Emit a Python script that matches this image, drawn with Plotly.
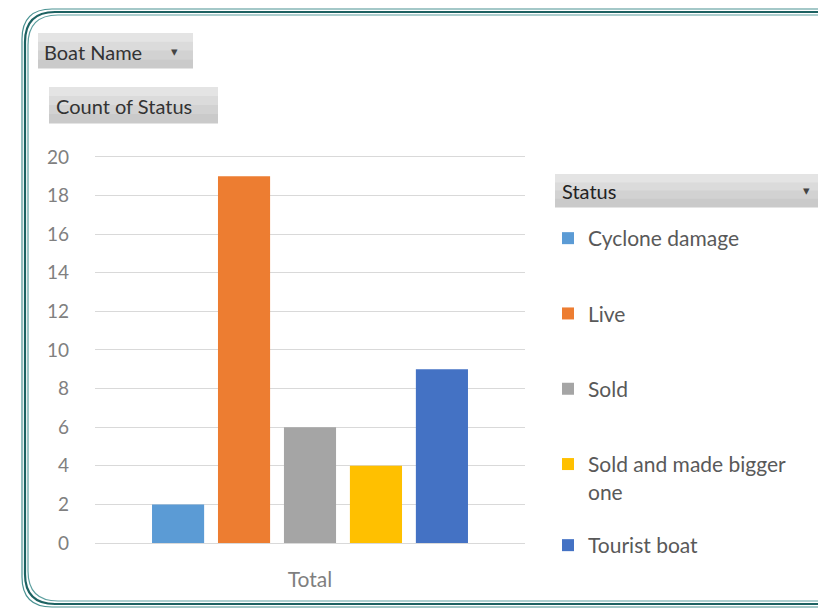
import plotly.graph_objects as go

# Pivot chart: count of boats by status
categories = ["Total"]
statuses = ["Cyclone damage", "Live", "Sold", "Sold and made bigger<br>one", "Tourist boat"]
counts = [2, 19, 6, 4, 9]
colors = ["#5B9BD5", "#ED7D31", "#A5A5A5", "#FFC000", "#4472C4"]
legend_ids = ["legend", "legend", "legend", "legend", "legend2"]
y_ticks = list(range(0, 21, 2))
y_max = 20.1

W, H = 818, 609
ML, MR, MT, MB = 95, 293, 155, 66
PW, PH = W - ML - MR, H - MT - MB


def px_x(x):
    return (x - ML) / PW


def px_y(y):
    return (H - MB - y) / PH


fig = go.Figure()
for name, val, col, lg in zip(statuses, counts, colors, legend_ids):
    fig.add_trace(go.Bar(
        x=categories, y=[val], name=name, marker_color=col,
        marker_line_width=0, legendgroup=name, legend=lg,
    ))

font_family = "Lato, 'Open Sans', sans-serif"

shapes = []


# Rounded triple frame around the whole pivot chart
def frame_path(off):
    left, top, bottom, right, r = 22 + off, 9 + off, 607 - off, 840, 30
    pts = [
        ("M", right, top), ("L", left + r, top),
        ("Q", left, top, left, top + r), ("L", left, bottom - r),
        ("Q", left, bottom, left + r, bottom), ("L", right, bottom),
    ]
    parts = []
    for p in pts:
        cmd, coords = p[0], p[1:]
        xy = []
        for i in range(0, len(coords), 2):
            xy.append(f"{px_x(coords[i]):.5f},{px_y(coords[i + 1]):.5f}")
        parts.append(cmd + " ".join(xy))
    return " ".join(parts)


for off, col, w in [(0, "#4a9292", 1.2), (3, "#1d6262", 2.2), (6, "#5d9f9f", 1.2)]:
    shapes.append(dict(type="path", xref="paper", yref="paper", path=frame_path(off),
                       line=dict(color=col, width=w), layer="above"))


def button(x0, y0, x1, y1):
    # stacked bands imitate the field-button gradient
    tones = ["#e4e4e4", "#dbdbdb", "#d2d2d2", "#cacaca"]
    step = (y1 - y0) / len(tones)
    for i, tone in enumerate(tones):
        shapes.append(dict(type="rect", xref="paper", yref="paper",
                           x0=px_x(x0), x1=px_x(x1),
                           y0=px_y(y0 + i * step), y1=px_y(y0 + (i + 1) * step + 0.5),
                           fillcolor=tone, line_width=0, layer="below"))


button(38, 33, 193, 68)
button(49, 87, 218, 123)
button(555, 174, 840, 207)

btn_font = dict(family=font_family, size=20, color="#333333")
arrow_font = dict(family=font_family, size=13, color="#444444")
annotations = [
    dict(text="Boat Name", x=px_x(42), y=px_y(52), xref="paper", yref="paper",
         xanchor="left", yanchor="middle", showarrow=False, font=btn_font),
    dict(text="▾", x=px_x(174), y=px_y(51), xref="paper", yref="paper",
         xanchor="center", yanchor="middle", showarrow=False, font=arrow_font),
    dict(text="Count of Status", x=px_x(54), y=px_y(106), xref="paper", yref="paper",
         xanchor="left", yanchor="middle", showarrow=False, font=btn_font),
    dict(text="Status", x=px_x(560), y=px_y(191), xref="paper", yref="paper",
         xanchor="left", yanchor="middle", showarrow=False,
         font=dict(family=font_family, size=20, color="#222222")),
    dict(text="▾", x=px_x(806), y=px_y(190), xref="paper", yref="paper",
         xanchor="center", yanchor="middle", showarrow=False, font=arrow_font),
]

legend_style = dict(
    xanchor="left", yanchor="top", xref="paper", yref="paper",
    font=dict(family=font_family, size=21, color="#595959"),
    valign="top", itemclick=False, itemdoubleclick=False, bgcolor="rgba(0,0,0,0)",
)

fig.update_layout(
    width=W, height=H,
    margin=dict(l=ML, r=MR, t=MT, b=MB, pad=0),
    paper_bgcolor="white", plot_bgcolor="white",
    barmode="group", bargap=0.233, bargroupgap=0.21,
    font=dict(family=font_family, color="#7f7f7f"),
    showlegend=True,
    legend=dict(x=px_x(548), y=px_y(218), tracegroupgap=45, **legend_style),
    legend2=dict(x=px_x(548), y=px_y(525), **legend_style),
    shapes=shapes,
    annotations=annotations,
)

fig.update_yaxes(
    range=[0, y_max], tickvals=y_ticks, showgrid=True, gridcolor="#d9d9d9", gridwidth=1,
    zeroline=True, zerolinecolor="#d9d9d9", zerolinewidth=1, showline=False,
    tickfont=dict(family=font_family, size=19, color="#808080"),
    ticklabelstandoff=25, fixedrange=True,
)
fig.update_xaxes(
    showgrid=False, showline=False, zeroline=False,
    tickfont=dict(family=font_family, size=21, color="#7f7f7f"),
    ticklabelstandoff=22, fixedrange=True,
)

fig.write_html("out.html", config={"displayModeBar": False})
